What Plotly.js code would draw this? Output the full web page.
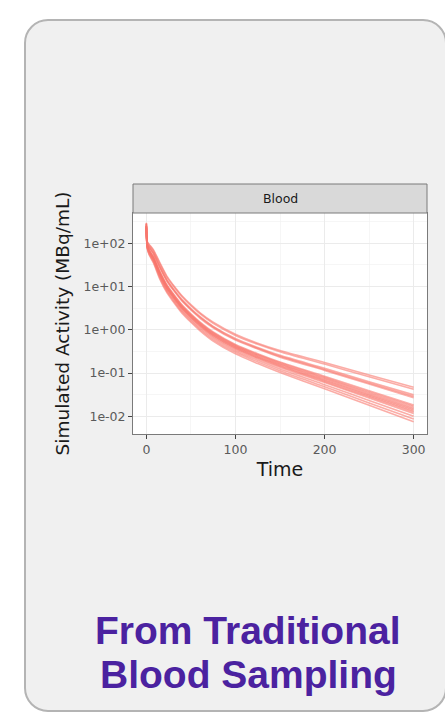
<!DOCTYPE html>
<html>
<head>
<meta charset="utf-8">
<script src="https://cdn.plot.ly/plotly-3.0.1.min.js"></script>
<style>
  html, body { margin: 0; padding: 0; background: #ffffff; }
  #wrap { position: relative; width: 445px; height: 714px; overflow: hidden; background: #ffffff; }
  #card { position: absolute; left: 24px; top: 19px; width: 419px; height: 689px;
          background: #f0f0f0; border: 2px solid #b4b4b4; border-radius: 24px; }
  #chart { position: absolute; left: 0; top: 0; width: 445px; height: 714px; }
</style>
</head>
<body>
<div id="wrap">
  <div id="card"></div>
  <div id="chart"></div>
</div>
<script>
// ---- data ----
const panelLabel = "Blood";
const times = [0, 1, 3, 8, 15, 23, 30, 40, 50, 60, 75, 100, 125, 150, 200, 250, 300];

const sim01 = [300, 110, 95, 70, 36, 17.4, 11, 6.1, 3.8, 2.5, 1.5, 0.79, 0.49, 0.33, 0.175, 0.09, 0.047];
const sim02 = [294, 107, 92, 67, 34, 16.5, 10.4, 5.8, 3.6, 2.36, 1.41, 0.74, 0.46, 0.31, 0.161, 0.082, 0.042];
const sim03 = [280, 101, 84, 60, 29.6, 14.4, 9.0, 4.98, 3.09, 2.03, 1.2, 0.63, 0.39, 0.256, 0.129, 0.063, 0.0313];
const sim04 = [277, 99.5, 82, 58, 28.6, 13.8, 8.7, 4.79, 2.98, 1.95, 1.16, 0.60, 0.375, 0.244, 0.121, 0.059, 0.0291];
const sim05 = [273, 98, 81, 57, 27.7, 13.4, 8.4, 4.61, 2.87, 1.87, 1.11, 0.577, 0.36, 0.233, 0.115, 0.0555, 0.027];
const sim06 = [255, 90, 71, 49, 22.8, 11.0, 6.9, 3.77, 2.33, 1.52, 0.89, 0.458, 0.28, 0.180, 0.0843, 0.0388, 0.0181];
const sim07 = [252, 89, 70, 47, 22.0, 10.6, 6.7, 3.63, 2.25, 1.47, 0.86, 0.44, 0.268, 0.172, 0.0796, 0.0364, 0.0168];
const sim08 = [249, 87, 68, 46, 21.3, 10.3, 6.4, 3.5, 2.17, 1.41, 0.82, 0.42, 0.256, 0.164, 0.0753, 0.0341, 0.0156];
const sim09 = [246, 86, 67, 45, 20.6, 9.9, 6.2, 3.37, 2.09, 1.36, 0.79, 0.405, 0.245, 0.157, 0.0713, 0.032, 0.0145];
const sim10 = [243, 85, 65.5, 43.6, 19.9, 9.5, 6.0, 3.25, 2.01, 1.31, 0.76, 0.388, 0.234, 0.150, 0.0673, 0.030, 0.0135];
const sim11 = [240, 83, 64, 42.5, 19.1, 9.2, 5.8, 3.13, 1.94, 1.26, 0.73, 0.372, 0.225, 0.143, 0.0637, 0.0281, 0.0125];
const sim12 = [237, 82, 63, 41.3, 18.5, 8.9, 5.6, 3.01, 1.87, 1.21, 0.70, 0.356, 0.215, 0.136, 0.0601, 0.0264, 0.0116];
const sim13 = [231, 80, 60, 39, 17.3, 8.3, 5.2, 2.8, 1.73, 1.12, 0.65, 0.328, 0.198, 0.124, 0.0538, 0.0232, 0.010];
const sim14 = [225, 77, 57, 37, 16.1, 7.7, 4.83, 2.6, 1.61, 1.04, 0.60, 0.301, 0.181, 0.113, 0.0481, 0.0204, 0.00865];
const sim15 = [220, 75, 55, 35, 15, 7.2, 4.5, 2.42, 1.49, 0.96, 0.55, 0.277, 0.166, 0.103, 0.043, 0.0179, 0.0075];

const simulations = [sim01, sim02, sim03, sim04, sim05, sim06, sim07, sim08,
                     sim09, sim10, sim11, sim12, sim13, sim14, sim15];

const xTickVals = [0, 100, 200, 300];
const xTickText = ["0", "100", "200", "300"];
const xMinorVals = [50, 150, 250];
const yTickVals = [0.01, 0.1, 1, 10, 100];
const yTickText = ["1e-02", "1e-01", "1e+00", "1e+01", "1e+02"];
const yMinorVals = [0.0316, 0.316, 3.16, 31.6, 316];

const xTitle = "Time";
const yTitle = "Simulated Activity (MBq/mL)";
const captionLine1 = "From Traditional";
const captionLine2 = "Blood Sampling";

// ---- traces ----
const traces = simulations.map((vals, i) => ({
  type: "scatter",
  mode: "lines",
  x: times,
  y: vals,
  name: "sim " + (i + 1),
  line: { color: "#F8766D", width: 1.6, shape: "spline", smoothing: 0.7 },
  opacity: 0.6,
  showlegend: false,
  hoverinfo: "skip"
}));

// ---- layout ----
const W = 445, H = 714;
const mL = 133, mR = 18, mT = 213, mB = 280;
const plotW = W - mL - mR;
const plotH = H - mT - mB;
const stripTop = 1 + 29 / plotH;
const pxX = (px) => (px - mL) / plotW;
const pxY = (py) => (H - mB - py) / plotH;

const axisFont = "DejaVu Sans, Liberation Sans, Arial, sans-serif";
const captionFont = { size: 39, color: "#4B22A0", family: "Liberation Sans, Arial, sans-serif", weight: "bold" };

const layout = {
  width: W, height: H,
  margin: { l: mL, r: mR, t: mT, b: mB, pad: 0 },
  paper_bgcolor: "rgba(0,0,0,0)",
  plot_bgcolor: "#ffffff",
  showlegend: false,
  font: { family: axisFont },
  xaxis: {
    range: [-15, 315],
    tickmode: "array", tickvals: xTickVals, ticktext: xTickText,
    ticks: "outside", ticklen: 4, tickwidth: 1, tickcolor: "#444444",
    tickfont: { size: 12.5, color: "#5a5a5a", family: axisFont },
    showgrid: true, gridcolor: "#ebebeb", gridwidth: 1,
    minor: { tickmode: "array", tickvals: xMinorVals, showgrid: true, gridcolor: "#f2f2f2", gridwidth: 0.7, ticks: "" },
    showline: true, linecolor: "#7a7a7a", linewidth: 1, mirror: true,
    zeroline: false,
    title: { text: xTitle, font: { size: 19, color: "#1a1a1a", family: axisFont }, standoff: 6 }
  },
  yaxis: {
    type: "log",
    range: [-2.41, 2.70],
    tickmode: "array", tickvals: yTickVals, ticktext: yTickText,
    ticks: "outside", ticklen: 4, tickwidth: 1, tickcolor: "#444444",
    tickfont: { size: 12.5, color: "#5a5a5a", family: axisFont },
    showgrid: true, gridcolor: "#ebebeb", gridwidth: 1,
    minor: { tickmode: "array", tickvals: yMinorVals, showgrid: true, gridcolor: "#f2f2f2", gridwidth: 0.7, ticks: "" },
    showline: true, linecolor: "#7a7a7a", linewidth: 1, mirror: true,
    zeroline: false,
    title: { text: yTitle, font: { size: 18.5, color: "#1a1a1a", family: axisFont }, standoff: 8 }
  },
  shapes: [
    { type: "rect", xref: "paper", yref: "paper", x0: 0, x1: 1, y0: 1, y1: stripTop,
      fillcolor: "#d9d9d9", line: { color: "#7a7a7a", width: 1 } }
  ],
  annotations: [
    { xref: "paper", yref: "paper", x: 0.5, y: (1 + stripTop) / 2, text: panelLabel,
      showarrow: false, xanchor: "center", yanchor: "middle",
      font: { size: 12.5, color: "#1a1a1a", family: axisFont } },
    { xref: "paper", yref: "paper", x: pxX(248), y: pxY(630),
      text: captionLine1, showarrow: false, xanchor: "center", yanchor: "middle",
      font: captionFont },
    { xref: "paper", yref: "paper", x: pxX(248), y: pxY(674),
      text: captionLine2, showarrow: false, xanchor: "center", yanchor: "middle",
      font: captionFont }
  ]
};

Plotly.newPlot("chart", traces, layout, { staticPlot: true, displayModeBar: false });
</script>
</body>
</html>
